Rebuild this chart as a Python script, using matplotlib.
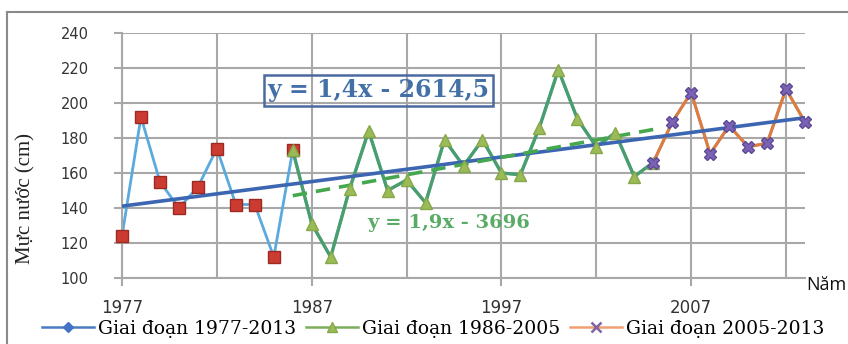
import numpy as np
import matplotlib
matplotlib.use('Agg')
import matplotlib.pyplot as plt
from matplotlib.lines import Line2D

# === du lieu muc nuoc trung binh nam (cm) ===
years = list(range(1977, 2014))
levels = [124, 192, 155, 140, 152, 174, 142, 142, 112, 173,
          131, 112, 151, 184, 150, 156, 143, 179, 164, 179,
          160, 159, 186, 219, 191, 175, 183, 158, 166, 189,
          206, 171, 187, 175, 177, 208, 189]

red_end = 1986          # diem danh dau do (1977-1986)
green_span = (1986, 2005)
orange_span = (2005, 2013)

blue_eq = 'y = 1,4x - 2614,5'
green_eq = 'y = 1,9x - 3696'
labels = ['Giai đoạn 1977-2013', 'Giai đoạn 1986-2005', 'Giai đoạn 2005-2013']
x_major = [1977, 1987, 1997, 2007]
x_minor = [1982, 1992, 2002, 2012]
y_ticks = [100, 120, 140, 160, 180, 200, 220, 240]

yrs = np.array(years)
lv = np.array(levels, dtype=float)
m_red = yrs <= red_end
m_green = (yrs >= green_span[0]) & (yrs <= green_span[1])
m_orange = (yrs >= orange_span[0]) & (yrs <= orange_span[1])

W, H = 848, 344
fig = plt.figure(figsize=(W / 100, H / 100), dpi=100)
ax = fig.add_axes([122 / W, 1 - 278 / H, 683 / W, 245 / H])

GRID = '#a8a8a8'
ax.grid(True, which='both', color=GRID, linewidth=1.5, zorder=0)
ax.set_axisbelow(True)

# chuoi chinh (xanh nhat)
ax.plot(yrs, lv, color='#5aaade', linewidth=2.0, zorder=2)
# giai doan 1986-2005
ax.plot(yrs[m_green], lv[m_green], color='#4a9e6e', linewidth=2.4, zorder=3)
# giai doan 2005-2013
ax.plot(yrs[m_orange], lv[m_orange], color='#e07b3c', linewidth=2.2, zorder=3)

# duong xu the
p1 = np.polyfit(yrs, lv, 1)
ax.plot(yrs, np.polyval(p1, yrs), color='#3d66b2', linewidth=2.6, zorder=4)
xg = yrs[m_green]
p2 = np.polyfit(xg, lv[m_green], 1)
ax.plot(xg, np.polyval(p2, xg), color='#45a84e', linewidth=2.6,
        linestyle=(0, (4, 2.5)), zorder=4)

# diem danh dau
ax.plot(yrs[m_red], lv[m_red], 's', markersize=9, markerfacecolor='#cc3b32',
        markeredgecolor='#9a2a22', zorder=5, clip_on=False)
ax.plot(yrs[m_green][1:], lv[m_green][1:], '^', markersize=8,
        markerfacecolor='#9bbb59', markeredgecolor='#86a848', zorder=5)
ax.plot(yrs[m_green][:1], lv[m_green][:1], '^', markersize=8,
        markerfacecolor='#9bbb59', markeredgecolor='#86a848', zorder=6)
ax.plot(yrs[m_orange], lv[m_orange], 'X', markersize=9,
        markerfacecolor='#7b62b4', markeredgecolor='#5d4a96', zorder=5,
        clip_on=False)

ax.set_xlim(1977, 2013)
ax.set_ylim(100, 240)
ax.set_xticks(x_major)
ax.set_xticks(x_minor, minor=True)
ax.set_yticks(y_ticks)
ax.tick_params(axis='x', which='major', length=6, width=1.5, color=GRID,
               pad=9, labelsize=12, labelcolor='#333333')
ax.tick_params(axis='x', which='minor', length=0)
ax.tick_params(axis='y', length=6, width=1.5, color=GRID, pad=18,
               labelsize=10.5, labelcolor='#333333')
for s in ['top', 'right']:
    ax.spines[s].set_visible(False)
for s in ['left', 'bottom']:
    ax.spines[s].set_color(GRID)
    ax.spines[s].set_linewidth(1.5)

# phuong trinh xu the
ax.text(1990.5, 207.4, blue_eq, fontsize=17, fontweight='bold',
        family='DejaVu Serif', color='#4470a8', ha='center', va='center',
        bbox=dict(boxstyle='square,pad=0.15', facecolor='none',
                  edgecolor='#4a6aa0', linewidth=1.8), zorder=6)
ax.text(1994.2, 131.4, green_eq, fontsize=14, fontweight='bold',
        family='DejaVu Serif', color='#5aab66', ha='center', va='center',
        zorder=6)

fig.text(26 / W, 1 - 199 / H, 'Mực nước (cm)', rotation=90, ha='center',
         va='center', fontsize=15, family='Liberation Serif', color='#222222')
fig.text(806 / W, 1 - 285 / H, 'Năm', ha='left', va='center', fontsize=13,
         family='Open Sans', color='#111111')

handles = [
    Line2D([], [], color='#4a7cc0', linewidth=1.8, marker='D', markersize=5,
           markerfacecolor='#4472c4', markeredgecolor='#4472c4'),
    Line2D([], [], color='#7cae5c', linewidth=1.8, marker='^', markersize=7,
           markerfacecolor='#9bbb59', markeredgecolor='#86a848'),
    Line2D([], [], color='#f0a070', linewidth=1.8, marker='x', markersize=7,
           markeredgecolor='#8064a2', markeredgewidth=1.8),
]
fig.legend(handles, labels, loc='center', bbox_to_anchor=(433 / W, 1 - 329 / H),
           ncol=3, frameon=False, prop={'family': 'DejaVu Serif', 'size': 13.5},
           handlelength=2.8, handletextpad=0.2, columnspacing=0.5, borderpad=0)

# khung ngoai
fig.add_artist(Line2D([7 / W, 1], [1 - 12 / H, 1 - 12 / H], color='#8a8a8a',
                      linewidth=1.5, transform=fig.transFigure))
fig.add_artist(Line2D([7 / W, 7 / W], [0, 1 - 12 / H], color='#8a8a8a',
                      linewidth=1.5, transform=fig.transFigure))

fig.savefig('out.png', dpi=100)
